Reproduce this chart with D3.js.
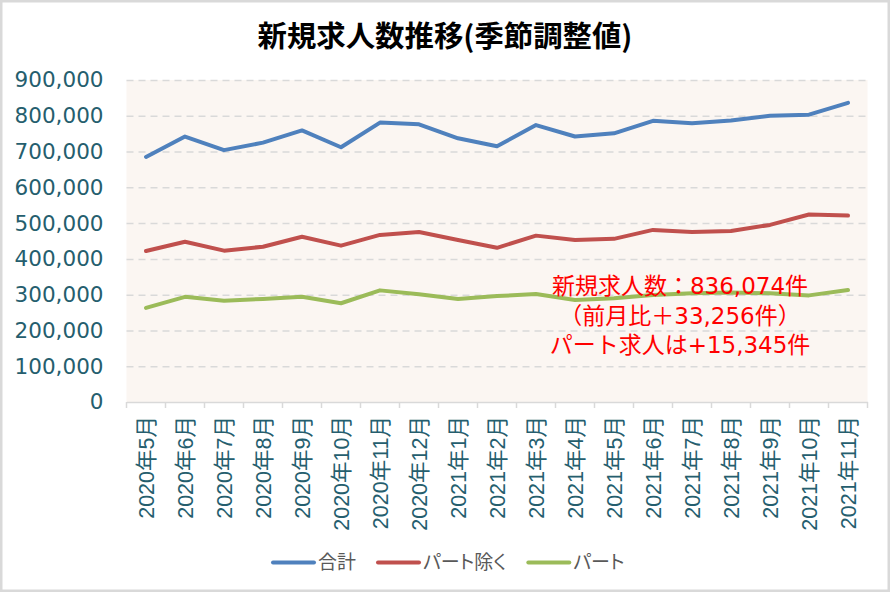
<!DOCTYPE html>
<html><head><meta charset="utf-8">
<script src="https://cdn.jsdelivr.net/npm/d3@7/dist/d3.min.js"></script>
<style>
html,body{margin:0;padding:0;background:#fff;}
svg{display:block;}
.legend-text{font-feature-settings:"palt" 1;}
</style></head>
<body>
<svg id="chart" width="890" height="592"></svg>
<script>
const categories = ["2020年5月","2020年6月","2020年7月","2020年8月","2020年9月","2020年10月","2020年11月","2020年12月","2021年1月","2021年2月","2021年3月","2021年4月","2021年5月","2021年6月","2021年7月","2021年8月","2021年9月","2021年10月","2021年11月"];
const totalValues = [685000,742000,704000,725000,759000,712000,781000,776000,737000,715000,774000,742000,751000,786000,779000,787000,800000,803000,836074];
const nonPartValues = [422000,448000,423000,434000,462000,437000,467000,475000,453000,431000,465000,453000,456000,481000,475000,478000,495000,524000,521000];
const partValues = [263000,294000,283000,288000,294000,276000,312000,301000,288000,296000,302000,285000,290000,299000,304000,306000,304000,298000,313000];
const seriesNames = ["合計","パート除く","パート"];
const yTicks = [0,100000,200000,300000,400000,500000,600000,700000,800000,900000];
const titleText = "新規求人数推移(季節調整値)";
const noteLines = ["新規求人数：836,074件","（前月比＋33,256件）","パート求人は+15,345件"];

const colors = ["#4F81BD","#C0504D","#9BBB59"];
const series = [totalValues, nonPartValues, partValues];

const svg = d3.select("#chart");
const W = 890, H = 592;
const pLeft = 126.5, pRight = 867.5, pTop = 80, pBottom = 402;

// outer frame
svg.append("rect").attr("x",1.25).attr("y",1.25).attr("width",W-2.5).attr("height",H-2.5)
  .attr("fill","#fff").attr("stroke","#D9D9D9").attr("stroke-width",2.5);

const x = d3.scaleBand().domain(categories).range([pLeft,pRight]).padding(0);
const y = d3.scaleLinear().domain([0,900000]).range([pBottom,pTop]);
const cx = c => x(c) + x.bandwidth()/2;

// plot background
svg.append("rect").attr("x",pLeft).attr("y",pTop).attr("width",pRight-pLeft).attr("height",pBottom-pTop)
  .attr("fill","#FBF6F2");

// gridlines
const grid = svg.append("g").attr("transform",`translate(${pLeft},0)`)
  .call(d3.axisLeft(y).tickValues(yTicks.filter(v=>v>0)).tickSize(-(pRight-pLeft)).tickFormat(""));
grid.select(".domain").remove();
grid.selectAll("line").attr("stroke","#D9D9D9").attr("stroke-width",1.5).attr("stroke-dasharray","7,5");

// y axis labels
const yAx = svg.append("g").attr("transform",`translate(${pLeft},0)`)
  .call(d3.axisLeft(y).tickValues(yTicks).tickSize(0).tickPadding(23).tickFormat(d3.format(",")));
yAx.select(".domain").remove();
yAx.selectAll("text").attr("font-family","'DejaVu Sans', sans-serif").attr("font-size","21.5px")
  .attr("fill","#255E6E");

// x axis
const xAx = svg.append("g").attr("transform",`translate(0,${pBottom})`)
  .call(d3.axisBottom(x).tickSize(0).tickPadding(0));
xAx.select(".domain").attr("stroke","#D9D9D9").attr("stroke-width",1.5);
xAx.selectAll("text")
  .attr("font-family","'Liberation Sans','Noto Sans CJK JP',sans-serif").attr("font-size","21.5px")
  .attr("fill","#255E6E")
  .attr("transform","rotate(-90)")
  .attr("text-anchor","end")
  .attr("x",-14).attr("y",0).attr("dy","0.36em");
// boundary tick marks
const bounds = categories.map(c=>x(c)).concat([pRight]);
svg.append("g").selectAll("line").data(bounds).join("line")
  .attr("x1",d=>d).attr("x2",d=>d).attr("y1",pBottom).attr("y2",pBottom+6)
  .attr("stroke","#D9D9D9").attr("stroke-width",1.5);

// lines
const line = d3.line().x((d,i)=>cx(categories[i])).y(d=>y(d));
series.forEach((vals,k)=>{
  svg.append("path").datum(vals).attr("d",line).attr("fill","none")
    .attr("stroke",colors[k]).attr("stroke-width",4)
    .attr("stroke-linejoin","round").attr("stroke-linecap","round");
});

// annotation
const note = svg.append("text").attr("text-anchor","middle")
  .attr("font-family","'DejaVu Sans','Noto Sans CJK JP',sans-serif").attr("font-size","23px").attr("fill","#FF0000");
noteLines.forEach((t,i)=>{
  note.append("tspan").attr("x",680).attr("y",294 + i*29.5).text(t);
});

// title
svg.append("text").attr("x",W/2).attr("y",47).attr("text-anchor","middle")
  .attr("font-family","'Noto Sans CJK JP',sans-serif").attr("font-weight","bold").attr("font-size","29px")
  .attr("fill","#000").attr("textLength",375).attr("lengthAdjust","spacingAndGlyphs")
  .text(titleText);

// legend
const leg = svg.append("g");
let lx = 273;
const ly = 562.5;
seriesNames.forEach((n,k)=>{
  leg.append("line").attr("x1",lx).attr("x2",lx+41).attr("y1",ly).attr("y2",ly)
    .attr("stroke",colors[k]).attr("stroke-width",4).attr("stroke-linecap","round");
  const t = leg.append("text").attr("class","legend-text").attr("x",lx+45).attr("y",ly).attr("dy","0.36em")
    .attr("font-family","'Noto Sans CJK JP',sans-serif").attr("font-size","19px").attr("fill","#595959").text(n);
  lx += 45 + t.node().getComputedTextLength() + 22;
});
</script>
</body></html>
